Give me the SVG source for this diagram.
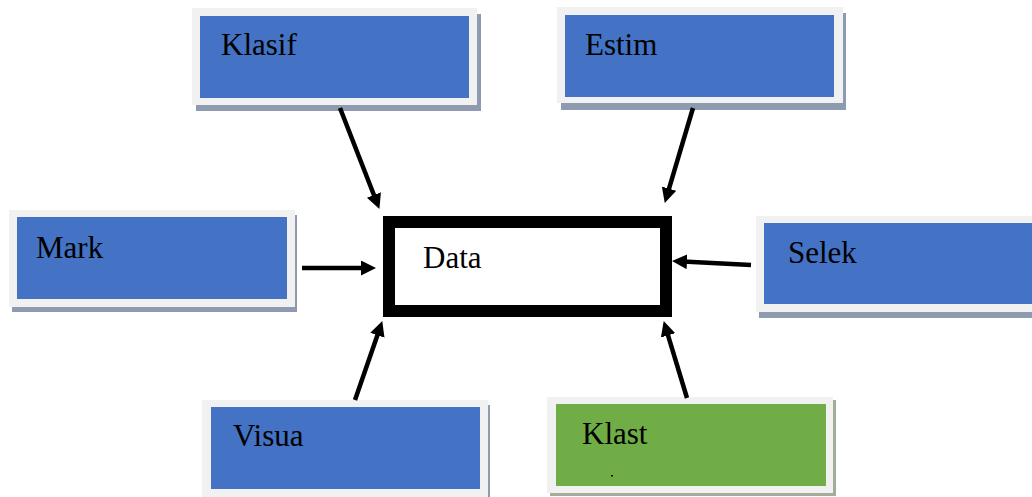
<svg xmlns="http://www.w3.org/2000/svg" width="1032" height="497" viewBox="0 0 1032 497">
<style>
.shadow{fill:#8E9AB0}
.gshadow{fill:#A3AD9C}
.outer{fill:#F1F1F1}
.blue{fill:#4472C4}
.green{fill:#70AD47}
.lbl{font-family:"Liberation Serif","Times New Roman",serif;font-size:31px;fill:#000}
.conn line{stroke:#000;stroke-width:4.5;fill:none}
</style>
<defs>
<marker id="ah" markerUnits="userSpaceOnUse" markerWidth="16" markerHeight="16" refX="4" refY="7.5" orient="auto">
<path d="M0,0 L15,7.5 L0,15 Z" fill="#000"/>
</marker>
</defs>
<rect width="1032" height="497" fill="#fff"/>

<g id="node-klasif">
<rect class="shadow" x="196" y="14" width="285" height="97"/>
<rect class="outer" x="192" y="8" width="285" height="97"/>
<rect class="blue" x="200" y="16" width="269" height="82"/>
<text class="lbl" x="221" y="55">Klasif</text>
</g>

<g id="node-estim">
<rect class="shadow" x="561" y="13" width="285" height="97"/>
<rect class="outer" x="557" y="7" width="286" height="96"/>
<rect class="blue" x="565" y="15" width="269" height="82"/>
<text class="lbl" x="585" y="55">Estim</text>
</g>

<g id="node-mark">
<rect class="shadow" x="12" y="215" width="285" height="97"/>
<rect class="outer" x="9" y="210" width="286" height="97"/>
<rect class="blue" x="17" y="217" width="270" height="82"/>
<text class="lbl" x="36" y="258">Mark</text>
</g>

<g id="node-data">
<rect x="389" y="222" width="277" height="89" fill="#fff" stroke="#000" stroke-width="12"/>
<text class="lbl" x="423" y="268">Data</text>
</g>

<g id="node-selek">
<rect class="shadow" x="759" y="222" width="280" height="96"/>
<rect class="outer" x="756" y="216" width="280" height="96"/>
<rect class="blue" x="764" y="223" width="275" height="81"/>
<text class="lbl" x="788" y="263">Selek</text>
</g>

<g id="node-visua">
<rect class="shadow" x="205" y="405" width="285" height="97"/>
<rect class="outer" x="202" y="400" width="286" height="97"/>
<rect class="blue" x="211" y="407" width="269" height="82"/>
<text class="lbl" x="233" y="446">Visua</text>
</g>

<g id="node-klast">
<rect class="gshadow" x="550" y="400" width="286" height="96"/>
<rect class="outer" x="547" y="397" width="286" height="96"/>
<rect class="green" x="556" y="404" width="270" height="82"/>
<text class="lbl" x="582" y="444">Klast</text>
<rect x="611" y="475" width="2" height="1.5" fill="#000"/>
</g>

<g id="connectors" class="conn">
<line x1="340" y1="108" x2="375.4" y2="198.7" marker-end="url(#ah)"/>
<line x1="693" y1="108" x2="667.9" y2="192.4" marker-end="url(#ah)"/>
<line x1="302" y1="268" x2="365" y2="268" marker-end="url(#ah)"/>
<line x1="751" y1="265" x2="683" y2="261.5" marker-end="url(#ah)"/>
<line x1="355" y1="400" x2="378.7" y2="331.5" marker-end="url(#ah)"/>
<line x1="687" y1="398" x2="666.9" y2="331.6" marker-end="url(#ah)"/>
</g>
</svg>
